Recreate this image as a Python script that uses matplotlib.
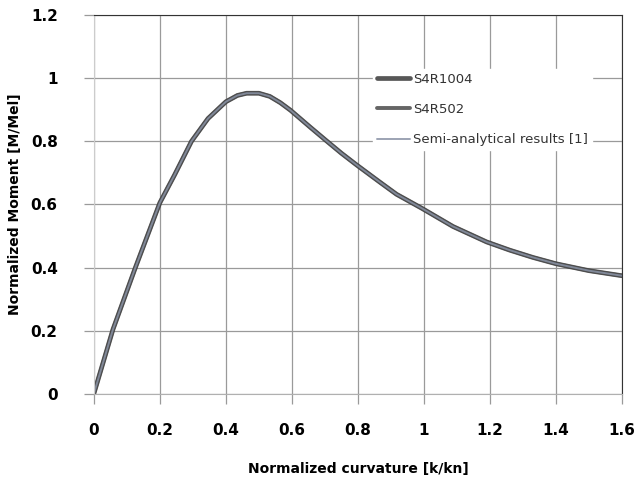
import numpy as np
import matplotlib as mpl
mpl.use('agg')
import matplotlib.pyplot as plt

# values
curv = [0, 0.058, 0.126, 0.2, 0.245, 0.296, 0.346, 0.40, 0.435, 0.463, 0.50,
        0.533, 0.565, 0.596, 0.655, 0.705, 0.75, 0.796, 0.867, 0.917, 0.993,
        1.088, 1.19, 1.26, 1.33, 1.4, 1.5, 1.6]
moment = [0, 0.204, 0.40, 0.605, 0.694, 0.80, 0.872, 0.925, 0.945, 0.952, 0.952,
          0.942, 0.922, 0.898, 0.845, 0.801, 0.762, 0.725, 0.670, 0.632, 0.588,
          0.530, 0.481, 0.455, 0.432, 0.412, 0.390, 0.374]
series = ["S4R1004", "S4R502", "Semi-analytical results [1]"]
colors = ["#3a3a3a", "#4a4a4a", "#8a93a6"]
widths = [3.4, 2.8, 1.4]

fig = plt.figure(figsize=(6.34, 4.82), dpi=100)
ax = fig.add_axes([0.148, 0.183, 0.833, 0.786])

for name, c, w in zip(series, colors, widths):
    ax.plot(curv, moment, color=c, lw=w, label=name, alpha=0.85,
            solid_capstyle='round', solid_joinstyle='round')

ax.set_xlim(0, 1.6)
ax.set_ylim(0, 1.2)
ax.set_xticks(np.arange(0, 1.61, 0.2))
ax.set_yticks(np.arange(0, 1.21, 0.2))
ax.set_xticklabels(["0", "0.2", "0.4", "0.6", "0.8", "1", "1.2", "1.4", "1.6"])
ax.set_yticklabels(["0", "0.2", "0.4", "0.6", "0.8", "1", "1.2"])
ax.grid(True, color="#9a9a9a", lw=0.9)
ax.set_axisbelow(True)
ax.tick_params(length=7, color="#9a9a9a", width=0.9, labelsize=11)
ax.tick_params(axis='x', pad=14)
ax.tick_params(axis='y', pad=19)
for lab in ax.get_xticklabels() + ax.get_yticklabels():
    lab.set_fontweight('bold')

ax.spines['top'].set_color("#333333")
ax.spines['right'].set_color("#333333")
ax.spines['left'].set_color("#cccccc")
ax.spines['bottom'].set_color("#b0b0b0")

ax.set_xlabel("Normalized curvature [k/kn]", fontsize=10, fontweight='bold', labelpad=17)
ax.set_ylabel("Normalized Moment [M/Mel]", fontsize=10, fontweight='bold', labelpad=6)

leg = ax.legend(loc='upper right', bbox_to_anchor=(0.955, 0.875), frameon=True,
                fontsize=9.5, handlelength=2.5, labelspacing=1.3, borderpad=0.3,
                handletextpad=0.2)
leg.get_frame().set_facecolor('white')
leg.get_frame().set_edgecolor('white')
leg.get_frame().set_alpha(1)
for t in leg.get_texts():
    t.set_color("#333333")

fig.savefig('out.png', dpi=100)
